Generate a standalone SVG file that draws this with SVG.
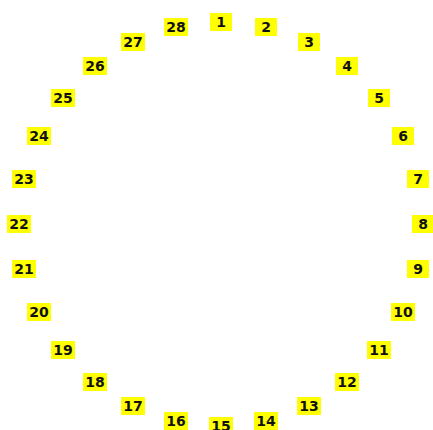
<svg xmlns="http://www.w3.org/2000/svg" width="433" height="430" viewBox="0 0 433 430">
<style>
rect{fill:#ffff00;}
.d rect{width:24px;height:18px;}
text{font-family:"DejaVu Sans",Verdana,sans-serif;font-size:14px;font-weight:bold;fill:#111;text-anchor:middle;}
</style>
<rect x="0" y="0" width="433" height="430" fill="#ffffff" style="fill:#ffffff"/>
<g id="n1"><rect x="210" y="13" width="22" height="18"/><text x="221" y="27">1</text></g>
<g id="n2"><rect x="255" y="18" width="22" height="18"/><text x="266" y="32">2</text></g>
<g id="n3"><rect x="298" y="33" width="22" height="18"/><text x="309" y="47">3</text></g>
<g id="n4"><rect x="336" y="57" width="22" height="18"/><text x="347" y="71">4</text></g>
<g id="n5"><rect x="368" y="89" width="22" height="18"/><text x="379" y="103">5</text></g>
<g id="n6"><rect x="392" y="127" width="22" height="18"/><text x="403" y="141">6</text></g>
<g id="n7"><rect x="407" y="170" width="22" height="18"/><text x="418" y="184">7</text></g>
<g id="n8"><rect x="412" y="215" width="22" height="18"/><text x="423" y="229">8</text></g>
<g id="n9"><rect x="407" y="260" width="22" height="18"/><text x="418" y="274">9</text></g>
<g id="n10"><rect x="391" y="303" width="24" height="18"/><text x="403" y="317">10</text></g>
<g id="n11"><rect x="367" y="341" width="24" height="18"/><text x="379" y="355">11</text></g>
<g id="n12"><rect x="335" y="373" width="24" height="18"/><text x="347" y="387">12</text></g>
<g id="n13"><rect x="297" y="397" width="24" height="18"/><text x="309" y="411">13</text></g>
<g id="n14"><rect x="254" y="412" width="24" height="18"/><text x="266" y="426">14</text></g>
<g id="n15"><rect x="209" y="417" width="24" height="18"/><text x="221" y="431">15</text></g>
<g id="n16"><rect x="164" y="412" width="24" height="18"/><text x="176" y="426">16</text></g>
<g id="n17"><rect x="121" y="397" width="24" height="18"/><text x="133" y="411">17</text></g>
<g id="n18"><rect x="83" y="373" width="24" height="18"/><text x="95" y="387">18</text></g>
<g id="n19"><rect x="51" y="341" width="24" height="18"/><text x="63" y="355">19</text></g>
<g id="n20"><rect x="27" y="303" width="24" height="18"/><text x="39" y="317">20</text></g>
<g id="n21"><rect x="12" y="260" width="24" height="18"/><text x="24" y="274">21</text></g>
<g id="n22"><rect x="7" y="215" width="24" height="18"/><text x="19" y="229">22</text></g>
<g id="n23"><rect x="12" y="170" width="24" height="18"/><text x="24" y="184">23</text></g>
<g id="n24"><rect x="27" y="127" width="24" height="18"/><text x="39" y="141">24</text></g>
<g id="n25"><rect x="51" y="89" width="24" height="18"/><text x="63" y="103">25</text></g>
<g id="n26"><rect x="83" y="57" width="24" height="18"/><text x="95" y="71">26</text></g>
<g id="n27"><rect x="121" y="33" width="24" height="18"/><text x="133" y="47">27</text></g>
<g id="n28"><rect x="164" y="18" width="24" height="18"/><text x="176" y="32">28</text></g>
</svg>
